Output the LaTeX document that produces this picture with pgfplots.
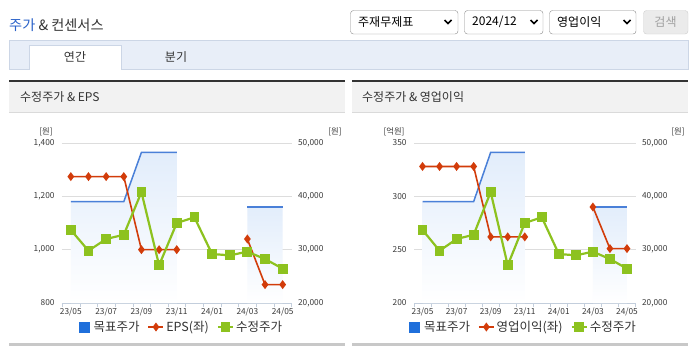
\documentclass[border=0pt]{standalone}
\usepackage{fontspec}
\setmainfont{Noto Sans CJK KR}
\usepackage{pgfplots}
\usepackage{pgfplotstable}
\pgfplotsset{compat=1.18}

\definecolor{tgtblue}{HTML}{4A80D8}
\definecolor{legblue}{HTML}{1F6FDB}
\definecolor{epsred}{HTML}{D23C0A}
\definecolor{prgreen}{HTML}{8DC21F}
\definecolor{fillblue}{HTML}{E2EDFB}
\definecolor{gridgray}{HTML}{DDDDDD}
\definecolor{axcol}{HTML}{C3CEDC}
\definecolor{txt}{HTML}{333333}
\definecolor{ticktxt}{HTML}{3A3A3A}
\definecolor{tabbg}{HTML}{E8EEF8}
\definecolor{tabborder}{HTML}{CCD6E6}
\definecolor{titlebg}{HTML}{F2F2F2}
\definecolor{titleborder}{HTML}{DADADA}
\definecolor{hdrblue}{HTML}{2A62C9}
\definecolor{boxgray}{HTML}{8C8C8C}
\definecolor{btnbg}{HTML}{EBEBEB}
\definecolor{btnborder}{HTML}{CFCFCF}
\definecolor{btntxt}{HTML}{A0A0A0}
\definecolor{darkline}{HTML}{333333}
\definecolor{bottomgray}{HTML}{C8C8C8}

\pgfplotstableread{
x y
0 39000
1 39000
2 39000
3 39000
4 48250
5 48250
6 48250
}\tgtA
\pgfplotstableread{
x y
10 38000
11 38000
12 38000
}\tgtB
\pgfplotstableread{
x y
0 20000
0 39000
1 39000
2 39000
3 39000
4 48250
5 48250
6 48250
6 20000
}\tgtAfill
\pgfplotstableread{
x y
10 20000
10 38000
11 38000
12 38000
12 20000
}\tgtBfill
\pgfplotstableread{
x y
0 1274
1 1274
2 1274
3 1274
4 1000
5 1000
6 1000
7 nan
8 nan
9 nan
10 1040
11 869
12 869
}\eps
\pgfplotstableread{
x y
0 328
1 328
2 328
3 328
4 262
5 262
6 262
7 nan
8 nan
9 nan
10 290
11 251
12 251
}\opinc
\pgfplotstableread{
x y
0 33700
1 29800
2 32000
3 32800
4 40800
5 27070
6 35000
7 36070
8 29190
9 28940
10 29620
11 28250
12 26440
}\price

\pgfplotsset{
  chart/.style n args={2}{at={(#1,-303pt)}, anchor=south west, scale only axis,
    width=#2, height=160pt, xmin=-0.5, xmax=12.5,
    /pgf/number format/assume math mode=true, scaled y ticks=false,
    tick label style={font=\fontsize{8.3}{9}\selectfont, text=ticktxt},
    major tick length=0pt},
  leftaxis/.style={axis x line*=bottom, axis y line*=left,
    x axis line style={draw=axcol,-}, y axis line style={draw=none},
    xtick={0,2,...,12}, xticklabels={23/05,23/07,23/09,23/11,24/01,24/03,24/05},
    minor xtick={-0.5,0.5,...,12.5}, minor tick length=4pt, tick align=outside,
    minor tick style={draw=axcol},
    ymajorgrids, major grid style={gridgray},
    xticklabel style={yshift=-1.5pt}, yticklabel style={xshift=-4pt}},
  rightaxis/.style={hide x axis, axis y line*=right, y axis line style={draw=none},
    ytick={20000,30000,40000,50000}, yticklabel style={xshift=3pt}},
  tgtfill/.style={draw=none, top color=fillblue, bottom color=white},
  tgtline/.style={tgtblue, line width=1.5pt, mark=none},
  redline/.style={epsred, line width=1.6pt, mark=diamond*, mark size=3.2pt, unbounded coords=jump},
  greenline/.style={prgreen, line width=2.2pt, mark=square*, mark size=3.8pt},
  shortline/.style={legend image code/.code={%
    \draw[mark repeat=2,mark phase=2] plot coordinates {(0pt,0pt) (7.5pt,0pt) (15pt,0pt)};}},
  bluesq/.style={legend image code/.code={%
    \fill[legblue, draw=none] (0pt,-5.5pt) rectangle (11pt,5.5pt);
    \path[draw=none, fill=none] (0pt,0pt) -- (13pt,0pt);}},
  mylegend/.style={legend style={draw=none, fill=none, at={(#1,-0.15)}, anchor=center,
    legend columns=-1, font=\fontsize{12.5}{14}\selectfont, text=txt,
    /tikz/every even column/.append style={column sep=6pt}}},
}

\begin{document}
\begin{tikzpicture}
\begin{scope}[x=1pt,y=-1pt]
  \path[use as bounding box, fill=white] (0,0) rectangle (695,349);
  % header
  \node[anchor=west, inner sep=0pt, font=\fontsize{14.2}{16}\selectfont] at (9,25) {\textcolor{hdrblue}{주가} \textcolor{txt}{\& 컨센서스}};
  \draw[boxgray, rounded corners=3pt, fill=white] (350.5,10.5) rectangle (458,34);
  \draw[boxgray, rounded corners=3pt, fill=white] (464.5,10.5) rectangle (543,34);
  \draw[boxgray, rounded corners=3pt, fill=white] (549.5,10.5) rectangle (636,34);
  \draw[btnborder, rounded corners=3pt, fill=btnbg] (643.5,10.5) rectangle (688,34);
  \node[anchor=west, inner sep=0pt, font=\fontsize{12}{14}\selectfont] at (358,22) {주재무제표};
  \node[anchor=west, inner sep=0pt, font=\fontsize{12}{14}\selectfont] at (472,22) {2024/12};
  \node[anchor=west, inner sep=0pt, font=\fontsize{12}{14}\selectfont] at (557,22) {영업이익};
  \node[font=\fontsize{12}{14}\selectfont, text=btntxt] at (665.5,22) {검색};
  \foreach \cx in {448,534,627} {
    \draw[line width=1.7pt, black] (\cx-3.5,20) -- (\cx,23.5) -- (\cx+3.5,20);
  }
  % tab bar
  \draw[tabborder, fill=tabbg] (9.5,40.5) rectangle (688,69.5);
  \fill[white] (29.5,45) rectangle (121,70);
  \draw[tabborder] (29.5,69.5) -- (29.5,45) -- (121,45) -- (121,69.5);
  \node[font=\fontsize{12}{14}\selectfont, text=txt] at (75,57) {연간};
  \node[font=\fontsize{12}{14}\selectfont, text=txt] at (176,57) {분기};
  % panels
  \foreach \a/\b in {9/345, 352/688} {
    \fill[darkline] (\a,80) rectangle (\b,82);
    \fill[titlebg] (\a,82) rectangle (\b,112);
    \draw[titleborder] (\a,112) -- (\b,112);
    \fill[bottomgray] (\a,342.5) rectangle (\b,345.5);
  }
  \node[anchor=west, inner sep=0pt, font=\fontsize{12}{13}\selectfont, text=txt] at (20,97) {수정주가 \& EPS};
  \node[anchor=west, inner sep=0pt, font=\fontsize{12}{13}\selectfont, text=txt] at (362,97) {수정주가 \& 영업이익};
  % units
  \node[font=\fontsize{8.3}{9}\selectfont, text=ticktxt] at (46,132) {[원]};
  \node[font=\fontsize{8.3}{9}\selectfont, text=ticktxt] at (335,132) {[원]};
  \node[font=\fontsize{8.3}{9}\selectfont, text=ticktxt] at (394,132) {[억원]};
  \node[font=\fontsize{8.3}{9}\selectfont, text=ticktxt] at (678,132) {[원]};
\end{scope}

% ---------------- left chart ----------------
\begin{axis}[chart={62pt}{229.5pt}, leftaxis, ymin=800, ymax=1400, ytick={800,1000,1200,1400}]
\end{axis}
\begin{axis}[chart={62pt}{229.5pt}, rightaxis, ymin=20000, ymax=50000]
  \addplot[tgtfill] table {\tgtAfill};
  \addplot[tgtfill] table {\tgtBfill};
  \addplot[tgtline] table {\tgtA};
  \addplot[tgtline] table {\tgtB};
\end{axis}
\begin{axis}[chart={62pt}{229.5pt}, hide axis, ymin=800, ymax=1400]
  \addplot[redline] table {\eps};
\end{axis}
\begin{axis}[chart={62pt}{229.5pt}, hide axis, ymin=20000, ymax=50000, mylegend=0.52]
  \addlegendimage{bluesq}
  \addlegendentry{목표주가}
  \addlegendimage{redline, shortline}
  \addlegendentry{EPS(좌)}
  \addplot[greenline, shortline] table {\price};
  \addlegendentry{수정주가}
\end{axis}

% ---------------- right chart ----------------
\begin{axis}[chart={414pt}{221.5pt}, leftaxis, ymin=200, ymax=350, ytick={200,250,300,350}]
\end{axis}
\begin{axis}[chart={414pt}{221.5pt}, rightaxis, ymin=20000, ymax=50000]
  \addplot[tgtfill] table {\tgtAfill};
  \addplot[tgtfill] table {\tgtBfill};
  \addplot[tgtline] table {\tgtA};
  \addplot[tgtline] table {\tgtB};
\end{axis}
\begin{axis}[chart={414pt}{221.5pt}, hide axis, ymin=200, ymax=350]
  \addplot[redline] table {\opinc};
\end{axis}
\begin{axis}[chart={414pt}{221.5pt}, hide axis, ymin=20000, ymax=50000, mylegend=0.494]
  \addlegendimage{bluesq}
  \addlegendentry{목표주가}
  \addlegendimage{redline, shortline}
  \addlegendentry{영업이익(좌)}
  \addplot[greenline, shortline] table {\price};
  \addlegendentry{수정주가}
\end{axis}
\end{tikzpicture}
\end{document}
